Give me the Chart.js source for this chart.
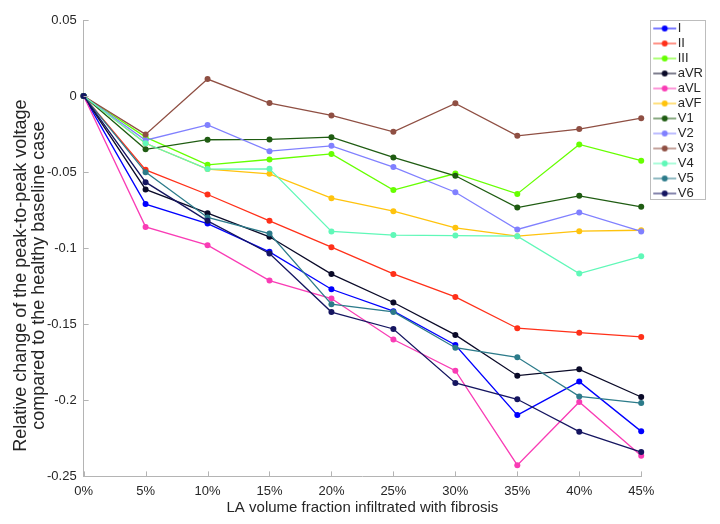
<!DOCTYPE html>
<html>
<head>
<meta charset="utf-8">
<script src="https://cdn.jsdelivr.net/npm/chart.js@4/dist/chart.umd.min.js"></script>
<style>
  body { margin: 0; background: #fff; }
  #wrap { width: 720px; height: 524px; }
</style>
</head>
<body>
<div id="wrap"><canvas id="lead_chart" width="720" height="524"></canvas></div>
<script>
// fibrosis fraction (x axis)
var fractions = ['0%', '5%', '10%', '15%', '20%', '25%', '30%', '35%', '40%', '45%'];

// relative change per ECG lead
var lead_I   = [0, -0.071, -0.0838, -0.1024, -0.127, -0.1414, -0.1636, -0.2097, -0.1877, -0.2204];
var lead_II  = [0, -0.0485, -0.0647, -0.082, -0.0993, -0.1169, -0.132, -0.1526, -0.1555, -0.1583];
var lead_III = [0, -0.027, -0.0452, -0.0417, -0.038, -0.0618, -0.0509, -0.0643, -0.0318, -0.0425];
var lead_aVR = [0, -0.0614, -0.077, -0.0925, -0.117, -0.1357, -0.157, -0.1838, -0.1796, -0.1978];
var lead_aVL = [0, -0.086, -0.098, -0.1213, -0.1331, -0.160, -0.1805, -0.2426, -0.2011, -0.2364];
var lead_aVF = [0, -0.031, -0.048, -0.0511, -0.0671, -0.0757, -0.0866, -0.0921, -0.0888, -0.0882];
var lead_V1  = [0, -0.035, -0.0287, -0.0285, -0.027, -0.0403, -0.0524, -0.0733, -0.0656, -0.0728];
var lead_V2  = [0, -0.029, -0.019, -0.0362, -0.0327, -0.0467, -0.0632, -0.0877, -0.0765, -0.089];
var lead_V3  = [0, -0.0252, 0.0112, -0.0046, -0.0127, -0.0235, -0.0048, -0.0261, -0.0217, -0.0145];
var lead_V4  = [0, -0.031, -0.048, -0.0478, -0.089, -0.0914, -0.0917, -0.0921, -0.1167, -0.1053];
var lead_V5  = [0, -0.050, -0.0798, -0.0904, -0.1368, -0.1419, -0.1654, -0.1717, -0.1974, -0.2018];
var lead_V6  = [0, -0.0566, -0.082, -0.1035, -0.142, -0.1531, -0.1886, -0.1993, -0.2206, -0.234];

var lead_names  = ['I', 'II', 'III', 'aVR', 'aVL', 'aVF', 'V1', 'V2', 'V3', 'V4', 'V5', 'V6'];
var lead_values = [lead_I, lead_II, lead_III, lead_aVR, lead_aVL, lead_aVF, lead_V1, lead_V2, lead_V3, lead_V4, lead_V5, lead_V6];
var lead_colors = ['#0000ff', '#ff3019', '#66ff00', '#0a0a28', '#f93cb5', '#ffc30d',
                   '#1f5c12', '#8080ff', '#8f4f43', '#60f8b8', '#2c7b8a', '#151560'];

var font_family = '"Liberation Sans", Arial, Helvetica, sans-serif';
var text_color = '#262626';
var axis_color = '#b4b4b4';

// the original y label sits a bit below the middle of the axis, trailing spaces push it down
var y_pad = '           ';

// line-with-dot swatch for the legend (wider than the box so the text sits close)
function legend_swatch(color){
    var c = document.createElement('canvas');
    c.width = 64; c.height = 8;
    var g = c.getContext('2d');
    g.strokeStyle = color;
    g.globalAlpha = 0.75;
    g.lineWidth = 1.4;
    g.beginPath(); g.moveTo(28, 4); g.lineTo(51, 4); g.stroke();
    g.globalAlpha = 1;
    g.fillStyle = color;
    g.beginPath(); g.arc(39.5, 4, 3, 0, Math.PI * 2); g.fill();
    return c;
}

var datasets = [];
for (var i = 0; i < lead_names.length; i++) {
    datasets.push({
        label: lead_names[i],
        data: lead_values[i],
        borderColor: lead_colors[i],
        backgroundColor: lead_colors[i],
        borderWidth: 1.3,
        pointRadius: 3,
        pointBorderWidth: 0,
        pointStyle: 'circle',
        tension: 0,
        clip: false,
        order: lead_names.length - i, // later leads on top, like the original
        swatch: legend_swatch(lead_colors[i])
    });
}

// box round the legend
var legend_box = {
    id: 'legend_box',
    afterDraw: function(chart){
        var boxes = chart.legend.legendHitBoxes;
        if (!boxes || !boxes.length) return;
        var x0 = Infinity, y0 = Infinity, x1 = -Infinity, y1 = -Infinity;
        boxes.forEach(function(b){
            x0 = Math.min(x0, b.left); y0 = Math.min(y0, b.top);
            x1 = Math.max(x1, b.left + b.width); y1 = Math.max(y1, b.top + b.height);
        });
        var ctx = chart.ctx;
        ctx.save();
        ctx.strokeStyle = '#bdbdbd';
        ctx.lineWidth = 1;
        ctx.strokeRect(Math.round(x0 + 7) + 0.5, Math.round(y0 - 2) + 0.5, Math.round(x1 - x0 - 5), Math.round(y1 - y0 + 1));
        ctx.restore();
    }
};

// matlab style ticks pointing into the plot
var inner_ticks = {
    id: 'inner_ticks',
    afterDraw: function(chart){
        var ctx = chart.ctx;
        var xs = chart.scales.x, ys = chart.scales.y;
        var area = chart.chartArea;
        ctx.save();
        ctx.strokeStyle = axis_color;
        ctx.lineWidth = 1;
        ctx.beginPath();
        for (var t = 0; t < xs.ticks.length; t++) {
            var px = Math.round(xs.getPixelForTick(t)) + 0.5;
            ctx.moveTo(px, area.bottom); ctx.lineTo(px, area.bottom - 5);
        }
        for (var k = 0; k < ys.ticks.length; k++) {
            var py = Math.round(ys.getPixelForTick(k)) + 0.5;
            ctx.moveTo(area.left, py); ctx.lineTo(area.left + 5, py);
        }
        ctx.stroke();
        ctx.restore();
    }
};

var lead_chart = new Chart(document.getElementById('lead_chart'), {
    type: 'line',
    data: { labels: fractions, datasets: datasets },
    plugins: [legend_box, inner_ticks],
    options: {
        responsive: false,
        animation: false,
        layout: { padding: { top: 20, left: 12, right: 7, bottom: 7 } },
        plugins: {
            tooltip: { enabled: false },
            legend: {
                position: 'right',
                align: 'start',
                labels: {
                    usePointStyle: true,
                    pointStyleWidth: 28,
                    padding: 2,
                    color: text_color,
                    font: { family: font_family, size: 13 },
                    sort: function(a, b){ return a.datasetIndex - b.datasetIndex; },
                    generateLabels: function(chart){
                        var items = Chart.defaults.plugins.legend.labels.generateLabels(chart);
                        items.forEach(function(it){
                            it.pointStyle = chart.data.datasets[it.datasetIndex].swatch;
                        });
                        return items;
                    }
                }
            }
        },
        scales: {
            x: {
                type: 'category',
                offset: false,
                grid: { display: false, drawTicks: false },
                border: { color: axis_color },
                ticks: { color: text_color, font: { family: font_family, size: 13 }, maxRotation: 0, padding: 7 },
                title: {
                    display: true,
                    text: 'LA volume fraction infiltrated with fibrosis',
                    color: text_color,
                    font: { family: font_family, size: 15 },
                    padding: { top: -7, bottom: 0 }
                }
            },
            y: {
                min: -0.25,
                max: 0.05,
                grid: { display: false, drawTicks: false },
                border: { color: axis_color },
                ticks: {
                    stepSize: 0.05,
                    color: text_color,
                    font: { family: font_family, size: 13 },
                    padding: 7,
                    callback: function(v){ return String(Math.round(v * 100) / 100); }
                },
                title: {
                    display: true,
                    text: ['Relative change of the peak-to-peak voltage' + y_pad, 'compared to the healthy baseline case' + y_pad],
                    color: text_color,
                    font: { family: font_family, size: 18, lineHeight: 1.0 },
                    padding: { top: 0, bottom: -8 }
                }
            }
        }
    }
});
</script>
</body>
</html>
